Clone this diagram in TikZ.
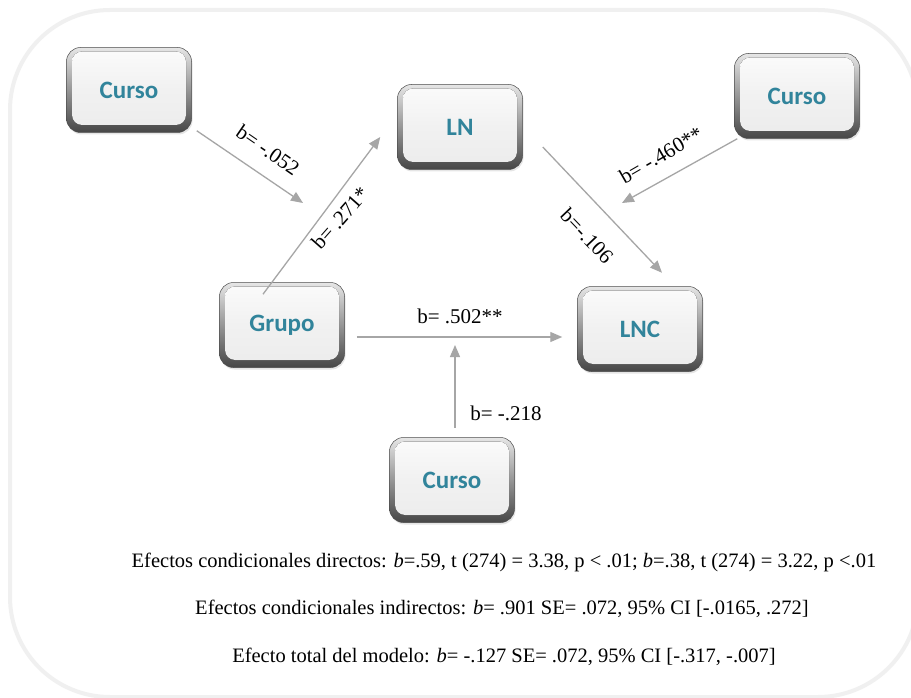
\documentclass[tikz,border=0pt]{standalone}
\usepackage{fontspec}
\setmainfont{Liberation Serif}
\newfontfamily\boxfont{Carlito}
\usetikzlibrary{arrows.meta,shadows,calc}
\definecolor{boxtext}{HTML}{31849B}
\definecolor{arrowgray}{HTML}{A6A6A6}
\definecolor{framegray}{HTML}{F0F0F0}

\begin{document}
\begin{tikzpicture}[x=1pt,y=-1pt,
  varbox/.style={minimum width=125pt, minimum height=85pt, rounded corners=14pt, inner sep=0pt,
    top color=gray!20, bottom color=gray!55!black, draw=gray!60!black, line width=0.5pt,
    drop shadow={opacity=0.2, shadow xshift=1pt, shadow yshift=-2pt},
    path picture={\fill[rounded corners=10pt, top color=gray!3, bottom color=gray!15, middle color=gray!11]
      ($(path picture bounding box.south west)+(5.5pt,7.5pt)$) rectangle
      ($(path picture bounding box.north east)+(-5.5pt,-4pt)$);},
    font=\boxfont\bfseries\fontsize{25}{30}\selectfont, text=boxtext},
  conn/.style={draw=arrowgray, line width=1.3pt, -{Triangle[length=12pt,width=10pt]}},
  coef/.style={font=\fontsize{21}{25}\selectfont, inner sep=1pt},
  summary/.style={font=\fontsize{20.5}{24}\selectfont, inner sep=1pt}
]
\useasboundingbox (0,0) rectangle (911,698);
\fill[white] (0,0) rectangle (911,698);

% outer frame
\draw[framegray, line width=4pt, rounded corners=100pt] (10,10) rectangle (918,697);

% variables
\node[varbox] (c1)  at (129,90)  {Curso};
\node[varbox] (ln)  at (460,127) {LN};
\node[varbox] (c2)  at (797,96)  {Curso};
\node[varbox] (gr)  at (282,325) {Grupo};
\node[varbox] (lnc) at (640,329) {LNC};
\node[varbox] (c3)  at (452,480) {Curso};

% free arrow ends (moderation paths)
\coordinate (m1) at (303,203);
\coordinate (m2) at (622,203);
\coordinate (m3) at (455,345);

% paths
\draw[conn] ($(c1.south east)+(5pt,2pt)$) -- (m1);
\draw[conn] ($(gr.north)+(-19pt,-12pt)$) -- ($(ln.west)+(-17pt,-10pt)$);
\draw[conn] ($(ln.east)+(20pt,-20pt)$) -- ($(lnc.north)+(22pt,13.5pt)$);
\draw[conn] ($(c2.south west)+(3pt,0pt)$) -- (m2);
\draw[conn] ($(gr.east)+(12pt,-12pt)$) -- ($(lnc.west)+(-15pt,-8pt)$);
\draw[conn] ($(c3.north)+(3pt,9.5pt)$) -- (m3);

% coefficients
\node[coef, rotate=-34.5] (k1) at (268,150) {b= -.052};
\node[coef, rotate=48.7]  (k2) at (340,218) {b= .271*};
\node[coef, rotate=-46.4] (k3) at (587,236) {b=-.106};
\node[coef, rotate=30]    (k4) at (661,155) {b= -.460**};
\node[coef]               (k5) at (460,316) {b= .502**};
\node[coef]               (k6) at (506,413) {b= -.218};

% summary
\node[summary] (s1) at (504,562) {Efectos condicionales directos: \textit{b}=.59, t (274) = 3.38, p < .01; \textit{b}=.38, t (274) = 3.22, p <.01};
\node[summary] (s2) at (502,609) {Efectos condicionales indirectos: \textit{b}= .901 SE= .072, 95\% CI [-.0165, .272]};
\node[summary] (s3) at (504,657) {Efecto total del modelo: \textit{b}= -.127 SE= .072, 95\% CI [-.317, -.007]};
\end{tikzpicture}
\end{document}
